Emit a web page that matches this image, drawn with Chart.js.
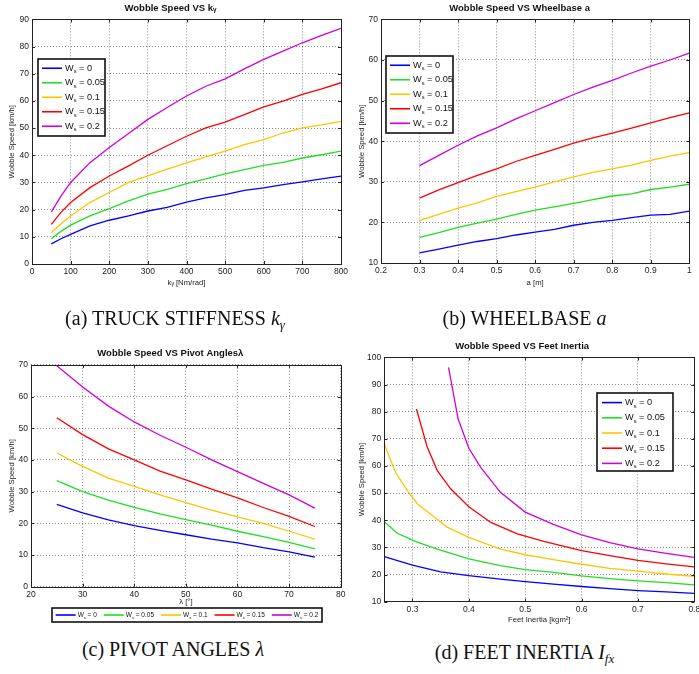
<!DOCTYPE html>
<html>
<head>
<meta charset="utf-8">
<script src="https://cdn.jsdelivr.net/npm/chart.js@4.4.1/dist/chart.umd.min.js"></script>
<style>
  body { margin: 0; background: #fff; width: 699px; height: 674px; position: relative; overflow: hidden; }
  .panel { position: absolute; }
  .cap { position: absolute; font-family: "Liberation Serif", "Times New Roman", serif; font-size: 20px;
         line-height: 22px; text-align: center; white-space: nowrap; color: #111; }
  .cap i sub { font-size: 13px; vertical-align: -4px; }
</style>
</head>
<body>
<div class="panel" style="left:0;top:0"><canvas id="chartA" width="350" height="292"></canvas></div>
<div class="panel" style="left:350px;top:0"><canvas id="chartB" width="349" height="292"></canvas></div>
<div class="panel" style="left:0;top:330px"><canvas id="chartC" width="350" height="300"></canvas></div>
<div class="panel" style="left:350px;top:330px"><canvas id="chartD" width="349" height="300"></canvas></div>

<div class="cap" style="left:0;width:350px;top:307px">(a) TRUCK STIFFNESS <i>k<sub>γ</sub></i></div>
<div class="cap" style="left:350px;width:349px;top:307px">(b) WHEELBASE <i>a</i></div>
<div class="cap" style="left:0;width:346px;top:638px">(c) PIVOT ANGLES <i>λ</i></div>
<div class="cap" style="left:350px;width:349px;top:641px">(d) FEET INERTIA <i>I<sub>fx</sub></i></div>

<script>
// W_s 取值与颜色
const wsValues = ['0', '0.05', '0.1', '0.15', '0.2'];
const lineColors = ['#0000ff', '#22dd22', '#ffc400', '#ff0000', '#d000d8'];

// (a) 卡车刚度 k_gamma
const stiffX = [50, 75, 100, 150, 200, 250, 300, 350, 400, 450, 500, 550, 600, 650, 700, 750, 800];
const stiffWs0   = [7.4, 9.3, 10.9, 14, 16.1, 17.7, 19.5, 20.8, 22.8, 24.3, 25.5, 27.1, 28, 29.2, 30.2, 31.3, 32.3];
const stiffWs005 = [9.3, 12, 14.3, 17.7, 20.4, 23.2, 25.7, 27.5, 29.6, 31.3, 33.2, 34.7, 36.3, 37.4, 39, 40.2, 41.5];
const stiffWs01  = [11.5, 14.8, 17.7, 22.6, 26.3, 30, 32.4, 34.9, 37.2, 39.4, 41.5, 43.9, 45.8, 48.2, 50.1, 51.2, 52.5];
const stiffWs015 = [14.6, 19, 22.6, 28.1, 32.4, 36.1, 40, 43.5, 47, 50.1, 52.2, 55, 57.8, 59.9, 62.4, 64.4, 66.7];
const stiffWs02  = [19.2, 25, 30, 37.3, 42.9, 48, 53.2, 57.6, 61.8, 65.4, 68.1, 71.8, 75.3, 78.3, 81.4, 84.1, 86.7];

// (b) 轴距 a
const baseX = [0.3, 0.35, 0.4, 0.45, 0.5, 0.55, 0.6, 0.65, 0.7, 0.75, 0.8, 0.85, 0.9, 0.95, 1.0];
const baseWs0   = [12.5, 13.4, 14.4, 15.3, 16, 16.9, 17.6, 18.3, 19.3, 20, 20.5, 21.2, 21.8, 22, 22.8];
const baseWs005 = [16.3, 17.5, 18.8, 19.8, 20.8, 22, 23, 23.8, 24.7, 25.6, 26.5, 27, 28.1, 28.7, 29.4];
const baseWs01  = [20.5, 22, 23.5, 24.8, 26.4, 27.6, 28.7, 30, 31.2, 32.3, 33.2, 34.1, 35.3, 36.3, 37.2];
const baseWs015 = [26, 28, 29.8, 31.6, 33.2, 35, 36.5, 38, 39.5, 40.8, 42, 43.2, 44.5, 45.8, 47];
const baseWs02  = [34, 36.5, 39, 41.3, 43.3, 45.5, 47.5, 49.5, 51.5, 53.3, 55, 56.8, 58.5, 60, 61.7];

// (c) 枢轴角 lambda
const pivotX = [25, 30, 35, 40, 45, 50, 55, 60, 65, 70, 75];
const pivotWs0   = [26, 23.3, 21.1, 19.3, 17.8, 16.4, 15, 13.8, 12.3, 11, 9.3];
const pivotWs005 = [33.5, 30, 27.3, 25, 23, 21.2, 19.4, 17.5, 15.8, 14, 11.9];
const pivotWs01  = [42.2, 38, 34.3, 31.7, 29, 26.5, 24.2, 22, 20, 17.5, 15];
const pivotWs015 = [53.3, 48, 43.5, 40, 36.5, 33.7, 30.8, 28, 25, 22.2, 19];
const pivotWs02  = [69.7, 63, 57, 52, 47.8, 44, 40, 36.3, 32.6, 29, 24.8];

// (d) 脚部惯量 I_fx（各曲线起点不同）
const inertiaX0    = [0.25, 0.3, 0.35, 0.4, 0.456, 0.5, 0.55, 0.6, 0.65, 0.7, 0.75, 0.8];
const inertiaWs0   = [26.6, 23.5, 21, 19.6, 18.3, 17.4, 16.5, 15.6, 14.8, 14.1, 13.6, 13.1];
const inertiaX005  = [0.25, 0.273, 0.306, 0.344, 0.4, 0.456, 0.5, 0.55, 0.6, 0.65, 0.7, 0.75, 0.8];
const inertiaWs005 = [39.5, 35.2, 32.1, 29.4, 25.8, 23.3, 21.8, 20.8, 19.5, 18.5, 17.7, 17, 16.2];
const inertiaX01   = [0.25, 0.27, 0.291, 0.309, 0.338, 0.362, 0.4, 0.456, 0.5, 0.55, 0.6, 0.65, 0.7, 0.75, 0.8];
const inertiaWs01  = [68.1, 57.6, 50.9, 46, 41.3, 37.4, 33.7, 29.4, 27.3, 25.5, 23.8, 22.3, 21.3, 20.2, 19.3];
const inertiaX015  = [0.307, 0.326, 0.344, 0.368, 0.4, 0.439, 0.486, 0.533, 0.6, 0.65, 0.7, 0.75, 0.8];
const inertiaWs015 = [81, 67.1, 58.3, 51.5, 45, 39.2, 35, 32.2, 28.8, 27, 25.2, 23.9, 22.8];
const inertiaX02   = [0.364, 0.381, 0.4, 0.421, 0.456, 0.5, 0.55, 0.6, 0.65, 0.7, 0.75, 0.8];
const inertiaWs02  = [96.3, 77.3, 66.5, 59.5, 50.3, 43, 38.5, 34.6, 31.8, 29.5, 27.8, 26.3];
const inertiaTicks = [0.3, 0.4, 0.5, 0.6, 0.7, 0.8];

const FONT = '"Liberation Sans", Arial, "DejaVu Sans", sans-serif';
Chart.defaults.font.family = FONT;
Chart.defaults.color = '#222';

// 坐标框 + 向内刻度（仿 MATLAB）
const boxPlugin = {
    id: 'matBox',
    afterDatasetsDraw(chart) {
        const { ctx, chartArea: a, scales } = chart;
        ctx.save();
        ctx.strokeStyle = '#222';
        ctx.lineWidth = 1;
        ctx.beginPath();
        scales.x.ticks.forEach(t => {
            const px = Math.round(scales.x.getPixelForValue(t.value)) + 0.5;
            ctx.moveTo(px, a.bottom); ctx.lineTo(px, a.bottom - 3);
            ctx.moveTo(px, a.top); ctx.lineTo(px, a.top + 3);
        });
        scales.y.ticks.forEach(t => {
            const py = Math.round(scales.y.getPixelForValue(t.value)) + 0.5;
            ctx.moveTo(a.left, py); ctx.lineTo(a.left + 3, py);
            ctx.moveTo(a.right, py); ctx.lineTo(a.right - 3, py);
        });
        ctx.stroke();
        ctx.strokeRect(Math.round(a.left) + 0.5, Math.round(a.top) + 0.5,
            Math.round(a.right - a.left), Math.round(a.bottom - a.top));
        ctx.restore();
    }
};

// 图例：W 带下标 s
const legendPlugin = {
    id: 'wsLegend',
    afterDraw(chart, args, opts) {
        if (!opts || opts.x === undefined) return;
        const ctx = chart.ctx;
        const fs = opts.fontSize;
        const mainFont = `${fs}px ${FONT}`;
        const subFont = `${(fs * 0.62).toFixed(1)}px ${FONT}`;
        ctx.save();
        ctx.fillStyle = '#fff';
        ctx.fillRect(opts.x, opts.y, opts.w, opts.h);
        ctx.lineWidth = opts.borderWidth;
        ctx.strokeStyle = '#111';
        ctx.strokeRect(opts.x, opts.y, opts.w, opts.h);
        ctx.textBaseline = 'middle';

        const measure = label => {
            ctx.font = mainFont;
            const w1 = ctx.measureText('W').width;
            const w3 = ctx.measureText(' = ' + label).width;
            ctx.font = subFont;
            const w2 = ctx.measureText('s').width;
            return w1 + w2 + w3;
        };
        const sets = chart.data.datasets;
        let cx = opts.x + opts.padX;
        if (opts.horizontal) {
            const total = sets.reduce((s, ds) => s + opts.lineLen + opts.gap + measure(ds.label), 0)
                + opts.spacing * (sets.length - 1);
            cx = opts.x + (opts.w - total) / 2;
        }
        sets.forEach((ds, i) => {
            const cy = opts.horizontal ? opts.y + opts.h / 2 : opts.y + opts.padY + opts.rowH * (i + 0.5);
            const lx = opts.horizontal ? cx : opts.x + opts.padX;
            ctx.strokeStyle = ds.borderColor;
            ctx.lineWidth = 1.6;
            ctx.beginPath();
            ctx.moveTo(lx, cy); ctx.lineTo(lx + opts.lineLen, cy);
            ctx.stroke();
            let tx = lx + opts.lineLen + opts.gap;
            ctx.fillStyle = '#111';
            ctx.font = mainFont;
            ctx.fillText('W', tx, cy);
            tx += ctx.measureText('W').width;
            ctx.font = subFont;
            ctx.fillText('s', tx, cy + fs * 0.38);
            tx += ctx.measureText('s').width;
            ctx.font = mainFont;
            ctx.fillText(' = ' + ds.label, tx, cy);
            if (opts.horizontal) cx += opts.lineLen + opts.gap + measure(ds.label) + opts.spacing;
        });
        ctx.restore();
    }
};

// 刻度格式：1 显示为 "1"，0.2 显示为 "0.2"
const tickText = v => String(Math.round(v * 100) / 100);

function buildChart(id, cfg) {
    const datasets = cfg.series.map((ys, i) => ({
        label: wsValues[i],
        data: ys.map((y, j) => ({ x: cfg.xs[i][j], y })),
        borderColor: lineColors[i],
        borderWidth: 1.3,
        pointRadius: 0,
        fill: false,
        tension: 0
    }));
    const gridOpts = { color: 'rgba(0,0,0,0.45)', lineWidth: 1, drawTicks: false };
    return new Chart(document.getElementById(id), {
        type: 'line',
        data: { datasets },
        options: {
            responsive: false,
            animation: false,
            events: [],
            layout: { padding: cfg.pad },
            plugins: {
                legend: { display: false },
                tooltip: { enabled: false },
                title: {
                    display: true,
                    text: cfg.title,
                    color: '#111',
                    font: { size: 9.5, weight: 'bold', lineHeight: 1.2 },
                    padding: cfg.titlePad
                },
                wsLegend: cfg.legend
            },
            scales: {
                x: {
                    type: 'linear',
                    min: cfg.xMin, max: cfg.xMax,
                    ticks: { stepSize: cfg.xStep, padding: 3, maxRotation: 0, font: { size: 8.5 }, color: '#222',
                             callback: tickText },
                    afterBuildTicks: cfg.xTicks ? (s => { s.ticks = cfg.xTicks.map(v => ({ value: v })); }) : undefined,
                    grid: gridOpts,
                    border: { display: false, dash: [1, 2] },
                    title: { display: true, text: cfg.xLabel, font: { size: 7.7 }, color: '#222', padding: cfg.xTitlePad },
                    afterFit(s) { s.height = cfg.xH; s.paddingLeft = 0; s.paddingRight = 0; }
                },
                y: {
                    min: cfg.yMin, max: cfg.yMax,
                    ticks: { stepSize: 10, padding: 3, font: { size: 8.5 }, color: '#222', callback: tickText },
                    grid: gridOpts,
                    border: { display: false, dash: [1, 2] },
                    title: { display: true, text: 'Wobble Speed [km/h]', font: { size: 7.7 }, color: '#222', padding: { top: 7, bottom: 0 } },
                    afterFit(s) { s.width = cfg.yW; s.paddingTop = 0; s.paddingBottom = 0; }
                }
            }
        },
        plugins: [boxPlugin, legendPlugin]
    });
}

const vLegend = { padX: 4, padY: 2, rowH: 14.5, lineLen: 20, gap: 3, fontSize: 9.2, borderWidth: 1.6 };

window.addEventListener('DOMContentLoaded', () => {
    buildChart('chartA', {
        title: 'Wobble Speed VS kᵧ',
        xLabel: 'kᵧ [Nm/rad]',
        xs: wsValues.map(() => stiffX),
        series: [stiffWs0, stiffWs005, stiffWs01, stiffWs015, stiffWs02],
        xMin: 0, xMax: 800, xStep: 100, yMin: 0, yMax: 90,
        pad: { left: 0, right: 9, top: 0, bottom: 0 },
        titlePad: { top: 3, bottom: 5 },
        xTitlePad: { top: 2, bottom: 4 },
        xH: 28, yW: 32,
        legend: Object.assign({ x: 38, y: 59, w: 67, h: 77 }, vLegend)
    });

    buildChart('chartB', {
        title: 'Wobble Speed VS Wheelbase a',
        xLabel: 'a [m]',
        xs: wsValues.map(() => baseX),
        series: [baseWs0, baseWs005, baseWs01, baseWs015, baseWs02],
        xMin: 0.2, xMax: 1, xStep: 0.1, yMin: 10, yMax: 70,
        pad: { left: 0, right: 9.7, top: 0, bottom: 0 },
        titlePad: { top: 3, bottom: 5 },
        xTitlePad: { top: 2, bottom: 4 },
        xH: 29, yW: 31,
        legend: Object.assign({ x: 36, y: 56, w: 67, h: 77 }, vLegend)
    });

    buildChart('chartC', {
        title: 'Wobble Speed VS Pivot Anglesλ',
        xLabel: 'λ [°]',
        xs: wsValues.map(() => pivotX),
        series: [pivotWs0, pivotWs005, pivotWs01, pivotWs015, pivotWs02],
        xMin: 20, xMax: 80, xStep: 10, yMin: 0, yMax: 70,
        pad: { left: 0, right: 9.3, top: 0, bottom: 0 },
        titlePad: { top: 18, bottom: 5.5 },
        xTitlePad: { top: 2, bottom: 23 },
        xH: 43.3, yW: 31,
        legend: { x: 52, y: 278, w: 270, h: 14, horizontal: true, padX: 0, lineLen: 20, gap: 2,
                  spacing: 7, fontSize: 6.5, borderWidth: 1.6 }
    });

    buildChart('chartD', {
        title: 'Wobble Speed VS Feet Inertia',
        xLabel: 'Feet Inertia [kgm²]',
        xs: [inertiaX0, inertiaX005, inertiaX01, inertiaX015, inertiaX02],
        series: [inertiaWs0, inertiaWs005, inertiaWs01, inertiaWs015, inertiaWs02],
        xMin: 0.25, xMax: 0.8, xTicks: inertiaTicks, yMin: 10, yMax: 100,
        pad: { left: 0, right: 4.7, top: 0, bottom: 0 },
        titlePad: { top: 11, bottom: 5 },
        xTitlePad: { top: 2, bottom: 5 },
        xH: 28.3, yW: 34.3,
        legend: Object.assign({ x: 247, y: 63, w: 76, h: 78 }, vLegend, { padX: 5, rowH: 15.2 })
    });
});
</script>
</body>
</html>
